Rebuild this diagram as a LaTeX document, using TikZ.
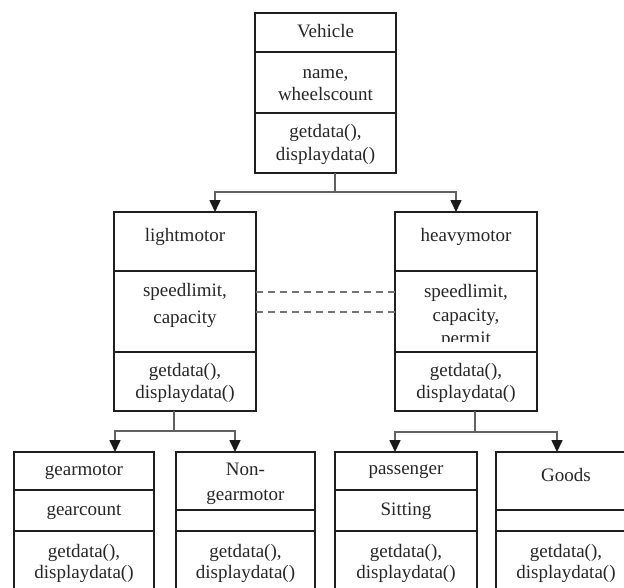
\documentclass[tikz,border=0pt]{standalone}
\usepackage{fontspec}
\setmainfont{Liberation Serif}
\usetikzlibrary{arrows.meta}
\begin{document}
\begin{tikzpicture}[x=1pt,y=-1pt,
  box/.style={draw=black!88, line width=1.4pt, inner sep=0pt, outer sep=0pt},
  divline/.style={draw=black!88, line width=1.4pt},
  lbl/.style={font=\fontsize{19}{23}\selectfont, align=center, inner sep=0pt, text=black!85},
  conn/.style={draw=black!62, line width=1.6pt},
  arr/.style={conn, -{Triangle[length=12pt,width=11pt,color=black!90]}},
  dsh/.style={draw=black!55, line width=1.4pt, dash pattern=on 7pt off 5pt}]
\path[use as bounding box] (0,0) rectangle (624,587);
\clip (0,0) rectangle (624,587);
\fill[white] (0,0) rectangle (624,587);

% class boxes
\node[box, minimum width=141pt, minimum height=160pt] (veh) at (325.5,93) {};
\node[box, minimum width=142pt, minimum height=199pt] (lm) at (185,311.5) {};
\node[box, minimum width=142pt, minimum height=199pt] (hm) at (466,311.5) {};
\node[box, minimum width=140pt, minimum height=148pt] (gm) at (84,526) {};
\node[box, minimum width=139pt, minimum height=148pt] (ng) at (245.5,526) {};
\node[box, minimum width=142pt, minimum height=148pt] (ps) at (406,526) {};
\node[box, minimum width=140pt, minimum height=148pt] (gd) at (566,526) {};

% compartment dividers
\draw[divline] (veh.west |- 0,52) -- (veh.east |- 0,52);
\draw[divline] (veh.west |- 0,113) -- (veh.east |- 0,113);
\draw[divline] (lm.west |- 0,271) -- (lm.east |- 0,271);
\draw[divline] (lm.west |- 0,352) -- (lm.east |- 0,352);
\draw[divline] (hm.west |- 0,271) -- (hm.east |- 0,271);
\draw[divline] (hm.west |- 0,352) -- (hm.east |- 0,352);
\draw[divline] (gm.west |- 0,490) -- (gm.east |- 0,490);
\draw[divline] (gm.west |- 0,531) -- (gm.east |- 0,531);
\draw[divline] (ng.west |- 0,510) -- (ng.east |- 0,510);
\draw[divline] (ng.west |- 0,531) -- (ng.east |- 0,531);
\draw[divline] (ps.west |- 0,490) -- (ps.east |- 0,490);
\draw[divline] (ps.west |- 0,531) -- (ps.east |- 0,531);
\draw[divline] (gd.west |- 0,510) -- (gd.east |- 0,510);
\draw[divline] (gd.west |- 0,531) -- (gd.east |- 0,531);

% texts
\node[lbl] (vehT) at (325.5,31) {Vehicle};
\node[lbl, font=\fontsize{19}{22}\selectfont] (vehA) at (325.5,85) {name,\\wheelscount};
\node[lbl] (vehM) at (325.5,144.5) {getdata(),\\displaydata()};

\node[lbl] (lmT) at (185,237) {lightmotor};
\node[lbl, font=\fontsize{19}{27}\selectfont] (lmA) at (185,305.5) {speedlimit,\\capacity};
\node[lbl, font=\fontsize{19}{22}\selectfont] (lmM) at (185,383) {getdata(),\\displaydata()};

\node[lbl] (hmT) at (466,237) {heavymotor};
\begin{scope}
\clip (395,271) rectangle (537,341.5);
\node[lbl, font=\fontsize{19}{23.5}\selectfont] (hmA) at (466,316.5) {speedlimit,\\capacity,\\permit};
\end{scope}
\node[lbl, font=\fontsize{19}{22}\selectfont] (hmM) at (466,383) {getdata(),\\displaydata()};

\node[lbl] (gmT) at (84,472) {gearmotor};
\node[lbl] (gmA) at (84,512) {gearcount};
\node[lbl, font=\fontsize{19}{21}\selectfont] (gmM) at (84,563) {getdata(),\\displaydata()};

\node[lbl, font=\fontsize{19}{25}\selectfont] (ngT) at (245.5,484) {Non-\\gearmotor};
\node[lbl, font=\fontsize{19}{21}\selectfont] (ngM) at (245.5,563) {getdata(),\\displaydata()};

\node[lbl] (psT) at (406,472) {passenger};
\node[lbl] (psA) at (406,511) {Sitting};
\node[lbl, font=\fontsize{19}{21}\selectfont] (psM) at (406,563) {getdata(),\\displaydata()};

\node[lbl] (gdT) at (566,475) {Goods};
\node[lbl, font=\fontsize{19}{21}\selectfont] (gdM) at (566,563) {getdata(),\\displaydata()};

% connectors
\coordinate (vj) at (335,192);
\draw[conn] (veh.south -| vj) -- (vj);
\draw[arr] (vj) -| (lm.north -| 215,0);
\draw[arr] (vj) -| (hm.north -| 456,0);

\coordinate (lj) at (174,431);
\draw[conn] (lm.south -| lj) -- (lj);
\draw[arr] (lj) -| (gm.north -| 115,0);
\draw[arr] (lj) -| (ng.north -| 235,0);

\coordinate (hj) at (475,432);
\draw[conn] (hm.south -| hj) -- (hj);
\draw[arr] (hj) -| (ps.north -| 395,0);
\draw[arr] (hj) -| (gd.north -| 557,0);

% dashed links
\draw[dsh] (lm.east |- 0,292) -- (hm.west |- 0,292);
\draw[dsh] (lm.east |- 0,312) -- (hm.west |- 0,312);
\end{tikzpicture}
\end{document}
